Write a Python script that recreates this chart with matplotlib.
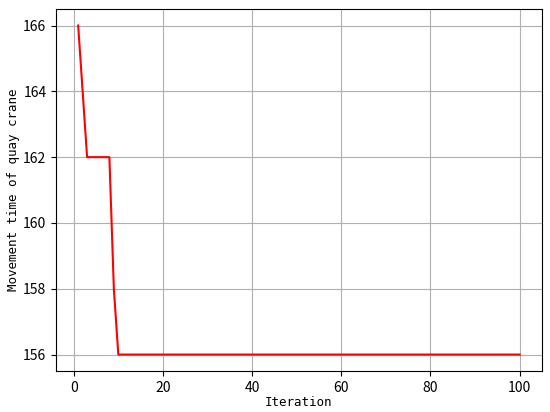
import matplotlib
matplotlib.use("Agg")
import matplotlib.pyplot as plt

plt.rcParams['font.family'] = ['Noto Sans CJK SC', 'DejaVu Sans']

iterations = [1, 2, 3, 4, 5, 6, 7, 8, 9, 10] + list(range(11, 101))
values = [166, 164, 162, 162, 162, 162, 162, 162, 158, 156] + [156] * 90

fig = plt.figure(figsize=(5.5, 4.12), dpi=100)
ax = fig.add_axes([0.102, 0.0995, 0.883, 0.8785])
ax.plot(iterations, values, color='red', linewidth=1.5)
ax.grid(True)
ax.set_xlabel('Iteration', fontsize=9, labelpad=1, family=['DejaVu Sans Mono'])
ax.set_ylabel('Movement time of quay crane', fontsize=9, labelpad=2, family=['DejaVu Sans Mono'])
ax.tick_params(labelsize=10)
fig.savefig('out.png', dpi=100)
